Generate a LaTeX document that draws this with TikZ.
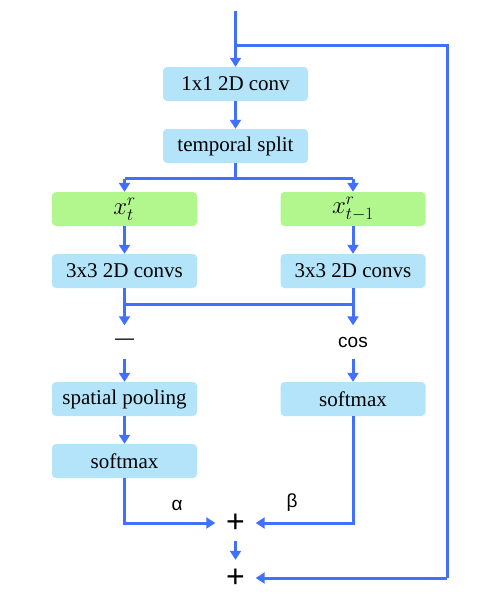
\documentclass[tikz,border=0pt]{standalone}
\usepackage{fontspec}
\setmainfont{Liberation Serif}
\newfontfamily\sansf{Liberation Sans}
\usetikzlibrary{arrows.meta}
\definecolor{arrowblue}{RGB}{64,112,252}
\definecolor{boxblue}{RGB}{179,228,250}
\definecolor{boxgreen}{RGB}{178,246,142}
\tikzset{
  box/.style={fill=boxblue, rounded corners=4pt, minimum width=145pt, minimum height=34pt, inner sep=0pt, font=\fontsize{21}{25}\selectfont},
  gbox/.style={box, fill=boxgreen, font=\fontsize{25}{28}\selectfont},
  conn/.style={draw=arrowblue, line width=3pt},
  arr/.style={conn, -{Triangle[length=9pt,width=11pt]}},
  lbl/.style={font=\sansf\fontsize{19}{22}\selectfont, inner sep=0pt},
  plusnode/.style={font=\sansf\fontsize{32}{34}\selectfont, inner sep=0pt, minimum width=40pt, minimum height=36pt},
}
\begin{document}
\begin{tikzpicture}[x=1pt,y=-1pt]
\useasboundingbox (0,0) rectangle (498,605);
% nodes
\node[box] (conv1) at (235.5,84) {1x1 2D conv};
\node[box] (split) at (235.5,146) {temporal split};
\node[gbox] (xl) at (124.5,209) {$x_t^r$};
\node[gbox] (xr) at (353,209) {$x_{t-1}^r$};
\node[box] (cl) at (124.5,271) {3x3 2D convs};
\node[box] (cr) at (353,271) {3x3 2D convs};
\node[lbl, minimum height=33pt] (minus) at (124.5,342) {—};
\node[lbl, minimum height=33pt] (cos) at (353,342) {cos};
\node[box] (pool) at (124.5,399) {spatial pooling};
\node[box] (smR) at (353,399) {softmax};
\node[box] (smL) at (124.5,461) {softmax};
\node[plusnode] (plus1) at (235.5,523) {+};
\node[plusnode] (plus2) at (235.5,578) {+};
\node[lbl] (alpha) at (177,505) {α};
\node[lbl] (beta) at (292,503) {β};
% coordinates
\coordinate (top) at (235.5,11);
\coordinate (br) at (235.5,45);
\coordinate (brR) at (447,45);
\coordinate (brD) at (447,578);
\coordinate (sp) at (235.5,178.5);
\coordinate (spL) at (124.5,178.5);
\coordinate (spR) at (353,178.5);
\coordinate (mgL) at (124.5,304);
\coordinate (mgR) at (353,304);
% connectors
\draw[arr] (top) -- (conv1.north);
\draw[conn] (br) -- (brR) -- (brD);
\draw[arr] (brD) -- (plus2.east);
\draw[arr] (conv1.south) -- (split.north);
\draw[conn] (split.south) -- (sp);
\draw[conn] (spL) -- (spR);
\draw[arr] (spL) -- (xl.north);
\draw[arr] (spR) -- (xr.north);
\draw[arr] (xl.south) -- (cl.north);
\draw[arr] (xr.south) -- (cr.north);
\draw[arr] (cl.south) -- (minus.north);
\draw[arr] (cr.south) -- (cos.north);
\draw[conn] (mgL) -- (mgR);
\draw[arr] (minus.south) -- (pool.north);
\draw[arr] (cos.south) -- (smR.north);
\draw[arr] (pool.south) -- (smL.north);
\draw[arr] (smL.south) |- (plus1.west);
\draw[arr] (smR.south) |- (plus1.east);
\draw[arr] (plus1.south) -- (plus2.north);
\end{tikzpicture}
\end{document}
